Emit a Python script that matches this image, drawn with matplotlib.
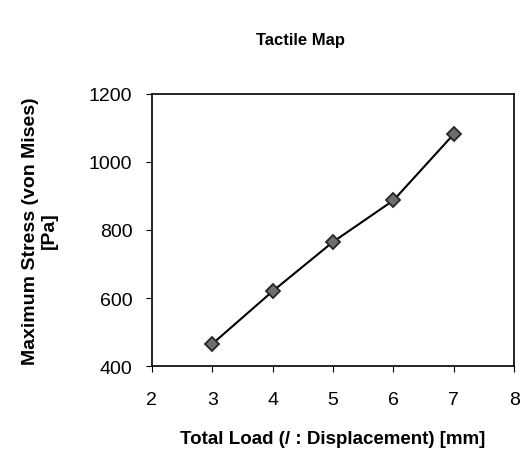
import matplotlib
matplotlib.use('Agg')
import matplotlib.pyplot as plt

plt.rcParams['font.family'] = ['Liberation Sans', 'DejaVu Sans']

load = [3, 4, 5, 6, 7]
stress = [465, 620, 765, 887, 1082]

fig = plt.figure(figsize=(5.2, 4.56), dpi=100)
ax = fig.add_axes([0.292, 0.195, 0.697, 0.597])

ax.plot(load, stress, color='black', lw=1.5, marker='D', markersize=7.5,
        markerfacecolor='#6e6e6e', markeredgecolor='#262626', markeredgewidth=1.3)

ax.set_xlim(2, 8)
ax.set_ylim(400, 1200)
ax.set_xticks(range(2, 9))
ax.set_yticks([400, 600, 800, 1000, 1200])
ax.tick_params(axis='both', labelsize=14, direction='out', length=4, width=0.8)
ax.tick_params(axis='x', pad=14)
ax.tick_params(axis='y', pad=10)
for s in ax.spines.values():
    s.set_linewidth(1.2)

ax.set_xlabel('Total Load (/ : Displacement) [mm]', fontsize=13.5, fontweight='bold', labelpad=16)
ax.set_ylabel('Maximum Stress (von Mises)\n[Pa]', fontsize=14, fontweight='bold', labelpad=22)
fig.text(0.578, 0.912, 'Tactile Map', fontsize=12, fontweight='bold', ha='center', va='center')

fig.savefig('out.png', dpi=100)
